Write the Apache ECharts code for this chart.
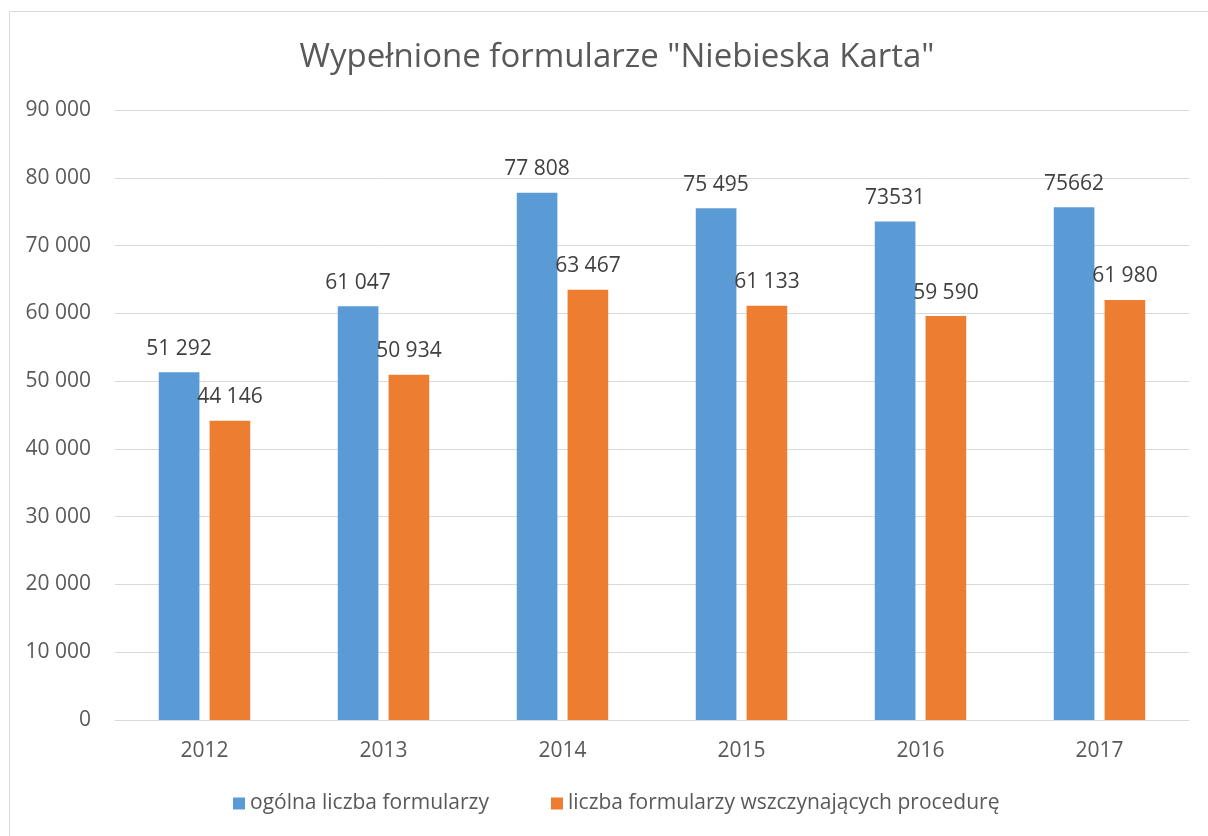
<!DOCTYPE html>
<html>
<head>
<meta charset="UTF-8">
<title>Niebieska Karta</title>
<style>
  html, body { margin: 0; padding: 0; background: #fff; }
  #box { width: 1208px; height: 836px; }
</style>
</head>
<body>
<div id="box"></div>
<script src="https://cdn.jsdelivr.net/npm/echarts@6/dist/echarts.min.js"></script>
<script>
const years = ['2012', '2013', '2014', '2015', '2016', '2017'];
const totalForms = [51292, 61047, 77808, 75495, 73531, 75662];
const procedureForms = [44146, 50934, 63467, 61133, 59590, 61980];
// label text as printed on the chart (two values lack the thousands space)
const totalLabels = ['51 292', '61 047', '77 808', '75 495', '73531', '75662'];
const procedureLabels = ['44 146', '50 934', '63 467', '61 133', '59 590', '61 980'];
const seriesNames = ['ogólna liczba formularzy', 'liczba formularzy wszczynających procedurę'];

const font = '"Open Sans", "DejaVu Sans", sans-serif';

const chart = echarts.init(document.getElementById('box'));

const option = {
  animation: false,
  textStyle: { fontFamily: font },
  graphic: [{
    type: 'rect',
    shape: { x: 9.5, y: 11.5, width: 1260, height: 900 },
    style: { fill: 'none', stroke: '#d9d9d9', lineWidth: 1 },
    silent: true
  }],
  title: {
    text: 'Wypełnione formularze "Niebieska Karta"',
    left: 612,
    textAlign: 'center',
    top: 36,
    textStyle: { fontFamily: font, fontSize: 33, fontWeight: 'normal', color: '#595959' }
  },
  legend: {
    bottom: 17,
    left: 228,
    width: 900,
    itemWidth: 12,
    itemHeight: 12,
    itemGap: 62,
    icon: 'rect',
    textStyle: { fontFamily: font, fontSize: 21, color: '#595959' },
    data: seriesNames
  },
  grid: { left: 115, right: 19, top: 110, bottom: 116, containLabel: false },
  xAxis: {
    type: 'category',
    data: years,
    axisLine: { lineStyle: { color: '#d9d9d9', width: 1 } },
    axisTick: { show: false },
    axisLabel: { fontFamily: font, fontSize: 21, color: '#595959', margin: 21 }
  },
  yAxis: {
    type: 'value',
    min: 0,
    max: 90000,
    interval: 10000,
    axisLine: { show: false },
    axisTick: { show: false },
    splitLine: { lineStyle: { color: '#d9d9d9', width: 1 } },
    axisLabel: {
      fontFamily: font, fontSize: 21, color: '#595959', margin: 24,
      formatter: v => v === 0 ? '0' : String(v).replace(/\B(?=(\d{3})+(?!\d))/g, ' ')
    }
  },
  series: [{
    name: seriesNames[0],
    type: 'bar',
    data: totalForms,
    barWidth: '22.7%',
    barGap: '25%',
    itemStyle: { color: '#5b9bd5' },
    label: {
      show: true, position: 'top', distance: 13,
      fontFamily: font, fontSize: 21, color: '#404040',
      formatter: p => totalLabels[p.dataIndex]
    }
  }, {
    name: seriesNames[1],
    type: 'bar',
    data: procedureForms,
    barWidth: '22.7%',
    barGap: '25%',
    itemStyle: { color: '#ed7d31' },
    label: {
      show: true, position: 'top', distance: 13,
      fontFamily: font, fontSize: 21, color: '#404040',
      formatter: p => procedureLabels[p.dataIndex]
    }
  }]
};

chart.setOption(option);
</script>
</body>
</html>
